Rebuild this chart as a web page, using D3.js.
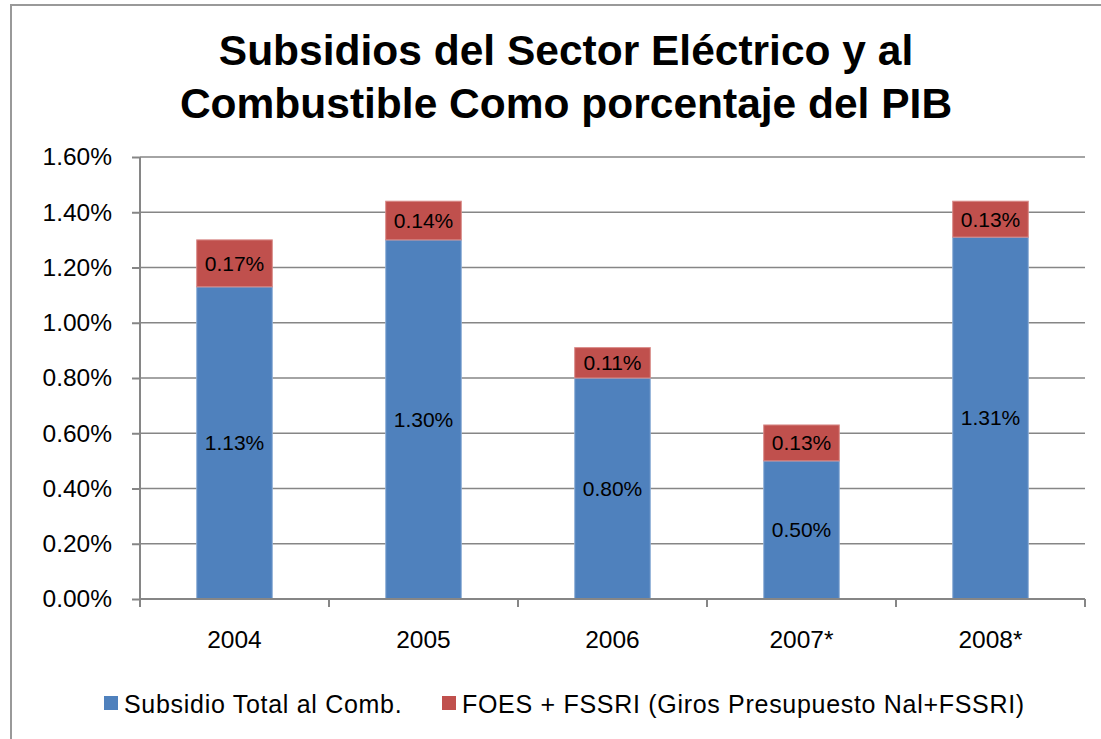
<style>
body { margin: 0; background: #fff; }
svg text { font-family: "Liberation Sans", Arial, sans-serif; fill: #000; }
.axis path, .axis line { stroke: #868686; stroke-width: 2; fill: none; }
.axis text { font-size: 24.5px; }
.grid line { stroke: #868686; stroke-width: 1.5; }
.lbl { font-size: 21px; text-anchor: middle; }
</style>
<svg class="chart"></svg>
<script src="https://d3js.org/d3.v7.min.js"></script>
<script>
var years = ["2004", "2005", "2006", "2007*", "2008*"];
var combustible = [1.13, 1.30, 0.80, 0.50, 1.31];
var foes = [0.17, 0.14, 0.11, 0.13, 0.13];
var yTicks = [0, 0.2, 0.4, 0.6, 0.8, 1.0, 1.2, 1.4, 1.6];
var seriesNames = ["Subsidio Total al Comb.", "FOES + FSSRI (Giros Presupuesto Nal+FSSRI)"];
var colors = ["#4F81BD", "#C0504D"];

var width = 1101, height = 739;
var plotL = 140, plotR = 1085, plotT = 157, plotB = 599;

var svg = d3.select(".chart").attr("width", width).attr("height", height);

svg.append("rect")
  .attr("x", 11).attr("y", 5).attr("width", width + 10).attr("height", height + 10)
  .attr("fill", "#fff").attr("stroke", "#999").attr("stroke-width", 2);

var x = d3.scaleBand().domain(years).range([plotL, plotR]).paddingInner(0.6).paddingOuter(0.3);
var y = d3.scaleLinear().domain([0, 1.6]).range([plotB, plotT]);

// gridlines
svg.append("g").attr("class", "grid")
  .selectAll("line").data(yTicks.slice(1)).enter().append("line")
  .attr("x1", plotL).attr("x2", plotR)
  .attr("y1", d => y(d)).attr("y2", d => y(d));

var rows = years.map((yr, i) => ({ year: yr, a: combustible[i], b: foes[i] }));

var g = svg.selectAll(".bar").data(rows).enter().append("g");

g.append("rect")
  .attr("x", d => x(d.year)).attr("width", x.bandwidth())
  .attr("y", d => y(d.a)).attr("height", d => y(0) - y(d.a))
  .attr("fill", colors[0]).attr("stroke", "#8fb0d8").attr("stroke-width", 1);

g.append("rect")
  .attr("x", d => x(d.year)).attr("width", x.bandwidth())
  .attr("y", d => y(d.a + d.b)).attr("height", d => y(d.a) - y(d.a + d.b))
  .attr("fill", colors[1]).attr("stroke", "#d98b89").attr("stroke-width", 1);

g.append("text").attr("class", "lbl")
  .attr("x", d => x(d.year) + x.bandwidth() / 2)
  .attr("y", d => y(d.a / 2)).attr("dy", "0.35em")
  .text(d => d.a.toFixed(2) + "%");

g.append("text").attr("class", "lbl")
  .attr("x", d => x(d.year) + x.bandwidth() / 2)
  .attr("y", d => y(d.a + d.b / 2)).attr("dy", "0.35em")
  .text(d => d.b.toFixed(2) + "%");

// y axis
var yAxis = svg.append("g").attr("class", "axis")
  .attr("transform", `translate(${plotL},0)`)
  .call(d3.axisLeft(y).tickValues(yTicks).tickSize(8).tickPadding(20).tickFormat(d => d.toFixed(2) + "%"));
yAxis.select(".domain").attr("d", `M0,${plotT}V${plotB}`);

// x axis
var bounds = d3.range(years.length + 1).map(i => plotL + i * x.step());
var xg = svg.append("g").attr("class", "axis");
xg.append("line").attr("x1", plotL).attr("x2", plotR).attr("y1", plotB).attr("y2", plotB);
xg.selectAll(".tk").data(bounds).enter().append("line")
  .attr("x1", d => d).attr("x2", d => d).attr("y1", plotB).attr("y2", plotB + 8);
xg.selectAll(".cat").data(years).enter().append("text")
  .attr("x", d => x(d) + x.bandwidth() / 2).attr("y", 648)
  .attr("text-anchor", "middle").text(d => d);

// title
var title = svg.append("text").attr("text-anchor", "middle")
  .attr("font-size", "42.5px").attr("font-weight", "bold");
title.append("tspan").attr("x", 566).attr("y", 65).text("Subsidios del Sector Eléctrico y al");
title.append("tspan").attr("x", 566).attr("y", 118).text("Combustible Como porcentaje del PIB");

// legend
var legendX = [104, 442];
var lg = svg.selectAll(".leg").data(seriesNames).enter().append("g")
  .attr("transform", (d, i) => `translate(${legendX[i]},696)`);
lg.append("rect").attr("width", 14).attr("height", 14).attr("fill", (d, i) => colors[i]);
lg.append("text").attr("x", 20).attr("y", 17).attr("font-size", "25px")
  .attr("letter-spacing", "0.7px").text(d => d);
</script>
